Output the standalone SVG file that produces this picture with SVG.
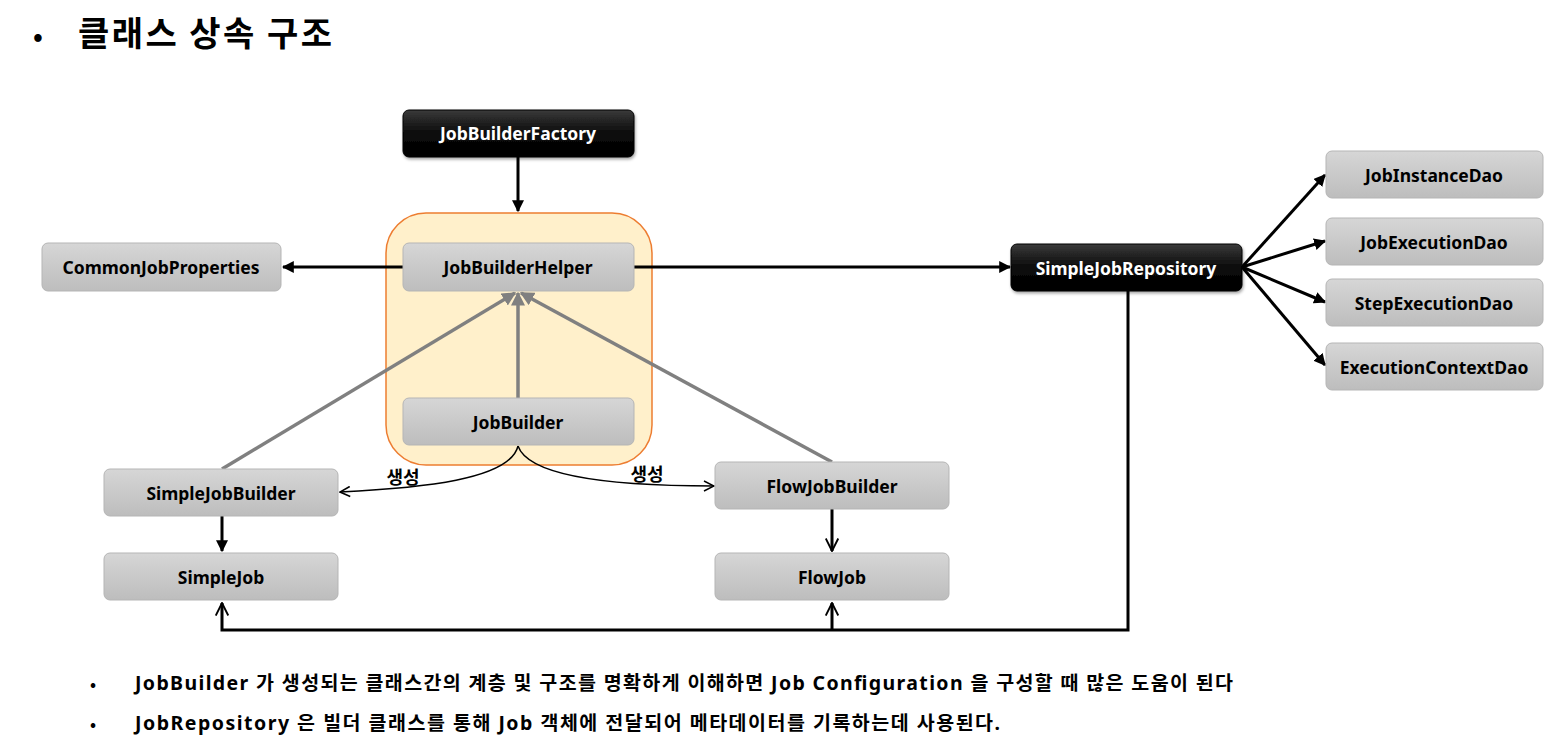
<svg xmlns="http://www.w3.org/2000/svg" width="1551" height="749" viewBox="0 0 1551 749">
<style>
.t{font-family:"Noto Sans","Noto Sans CJK KR",sans-serif;font-weight:bold;font-size:17.5px;text-anchor:middle;dominant-baseline:central}
.tw{fill:#fff}
.tb{fill:#000}
.g{fill:url(#gg);stroke:#b5b5b5;stroke-width:1}
.k{fill:url(#gk);stroke:#000;stroke-width:1;filter:url(#sh)}
.c{fill:none;stroke:#000;stroke-width:3}
.cg{fill:none;stroke:#808080;stroke-width:3.5}
.cc{fill:none;stroke:#000;stroke-width:1.5}
.kr{font-family:"Noto Sans CJK KR",sans-serif;font-weight:bold;fill:#000}
.nt{font-family:"Noto Sans","Noto Sans CJK KR",sans-serif;font-weight:bold;fill:#000;font-size:19.5px}
</style>
<defs>
<linearGradient id="gg" x1="0" y1="0" x2="0" y2="1"><stop offset="0" stop-color="#d6d6d6"/><stop offset="1" stop-color="#bdbdbd"/></linearGradient>
<linearGradient id="gk" x1="0" y1="0" x2="0" y2="1"><stop offset="0" stop-color="#3a3a3a"/><stop offset="0.5" stop-color="#0a0a0a"/><stop offset="1" stop-color="#000"/></linearGradient>
<filter id="sh" x="-10%" y="-20%" width="120%" height="150%"><feDropShadow dx="1" dy="2" stdDeviation="1.5" flood-color="#000" flood-opacity="0.35"/></filter>
<marker id="a" viewBox="0 0 10 10" refX="9" refY="5" markerWidth="4" markerHeight="4" orient="auto" markerUnits="strokeWidth"><path d="M0,0 L10,5 L0,10 z" fill="#000"/></marker>
<marker id="ag" viewBox="0 0 10 10" refX="9" refY="5" markerWidth="4" markerHeight="4" orient="auto" markerUnits="strokeWidth"><path d="M0,0 L10,5 L0,10 z" fill="#808080"/></marker>
<marker id="ao" viewBox="0 0 12 12" refX="11" refY="6" markerWidth="8" markerHeight="8" orient="auto" markerUnits="strokeWidth"><path d="M1,1 L11,6 L1,11" fill="none" stroke="#000" stroke-width="1.5"/></marker>
<marker id="ao2" viewBox="0 0 12 12" refX="11" refY="6" markerWidth="5" markerHeight="5" orient="auto" markerUnits="strokeWidth"><path d="M1,1 L11,6 L1,11" fill="none" stroke="#000" stroke-width="1.5"/></marker>
</defs>
<rect width="1551" height="749" fill="#fff"/>

<g id="title">
<text x="33" y="46" class="kr" font-size="26" font-weight="normal">•</text>
<text x="78" y="46" class="kr" font-size="34" textLength="254" lengthAdjust="spacing">클래스 상속 구조</text>
</g>

<g id="container">
<rect x="386" y="213" width="266" height="252" rx="40" fill="#fff0cb" stroke="#ed7d31" stroke-width="1.5"/>
</g>

<g id="connectors">
<line class="c" x1="518" y1="157" x2="518" y2="211" marker-end="url(#a)"/>
<line class="c" x1="403" y1="267" x2="283" y2="267" marker-end="url(#a)"/>
<line class="c" x1="634" y1="267" x2="1010" y2="267" marker-end="url(#a)"/>
<line class="c" x1="1242" y1="267" x2="1325" y2="175" marker-end="url(#a)"/>
<line class="c" x1="1242" y1="267" x2="1325" y2="241" marker-end="url(#a)"/>
<line class="c" x1="1242" y1="267" x2="1325" y2="302" marker-end="url(#a)"/>
<line class="c" x1="1242" y1="267" x2="1325" y2="365" marker-end="url(#a)"/>
<line class="cg" x1="222" y1="469" x2="515" y2="293" marker-end="url(#ag)"/>
<line class="cg" x1="518" y1="398" x2="518" y2="293" marker-end="url(#ag)"/>
<line class="cg" x1="832" y1="462" x2="521" y2="293" marker-end="url(#ag)"/>
<path class="cc" d="M518,446 C510,480 420,488 340,492" marker-end="url(#ao)"/>
<path class="cc" d="M518,446 C530,480 630,486 714,486" marker-end="url(#ao)"/>
<line class="c" x1="222" y1="516" x2="222" y2="551" marker-end="url(#a)"/>
<line class="c" x1="832" y1="509" x2="832" y2="551" marker-end="url(#ao2)"/>
<polyline class="c" points="1128,291 1128,630 222,630 222,603" marker-end="url(#ao2)"/>
<line class="c" x1="832" y1="630" x2="832" y2="603" marker-end="url(#ao2)"/>
<text x="403" y="484" class="kr" font-size="18" text-anchor="middle">생성</text>
<text x="647" y="481" class="kr" font-size="18" text-anchor="middle">생성</text>
</g>

<g id="JobBuilderFactory"><rect class="k" x="403" y="110" width="231" height="47" rx="6"/><text class="t tw" x="518" y="133">JobBuilderFactory</text></g>
<g id="JobBuilderHelper"><rect class="g" x="403" y="243" width="231" height="48" rx="6"/><text class="t tb" x="518" y="267">JobBuilderHelper</text></g>
<g id="CommonJobProperties"><rect class="g" x="42" y="243" width="239" height="48" rx="6"/><text class="t tb" x="161" y="267">CommonJobProperties</text></g>
<g id="JobBuilder"><rect class="g" x="403" y="398" width="231" height="47" rx="6"/><text class="t tb" x="518" y="422">JobBuilder</text></g>
<g id="SimpleJobBuilder"><rect class="g" x="104" y="469" width="234" height="47" rx="6"/><text class="t tb" x="221" y="493">SimpleJobBuilder</text></g>
<g id="FlowJobBuilder"><rect class="g" x="715" y="462" width="234" height="47" rx="6"/><text class="t tb" x="832" y="486">FlowJobBuilder</text></g>
<g id="SimpleJob"><rect class="g" x="104" y="553" width="234" height="47" rx="6"/><text class="t tb" x="221" y="577">SimpleJob</text></g>
<g id="FlowJob"><rect class="g" x="715" y="553" width="234" height="47" rx="6"/><text class="t tb" x="832" y="577">FlowJob</text></g>
<g id="SimpleJobRepository"><rect class="k" x="1011" y="244" width="231" height="47" rx="6"/><text class="t tw" x="1126" y="268">SimpleJobRepository</text></g>
<g id="JobInstanceDao"><rect class="g" x="1326" y="151" width="217" height="47" rx="6"/><text class="t tb" x="1434" y="175">JobInstanceDao</text></g>
<g id="JobExecutionDao"><rect class="g" x="1326" y="218" width="217" height="47" rx="6"/><text class="t tb" x="1434" y="242">JobExecutionDao</text></g>
<g id="StepExecutionDao"><rect class="g" x="1326" y="279" width="217" height="47" rx="6"/><text class="t tb" x="1434" y="303">StepExecutionDao</text></g>
<g id="ExecutionContextDao"><rect class="g" x="1326" y="343" width="217" height="47" rx="6"/><text class="t tb" x="1434" y="367">ExecutionContextDao</text></g>

<g id="notes">
<text x="90" y="690" class="kr" font-size="16" font-weight="normal">•</text>
<text x="135" y="690" class="nt" textLength="1098" lengthAdjust="spacing">JobBuilder 가 생성되는 클래스간의 계층 및 구조를 명확하게 이해하면 Job Configuration 을 구성할 때 많은 도움이 된다</text>
<text x="90" y="730" class="kr" font-size="16" font-weight="normal">•</text>
<text x="135" y="730" class="nt" textLength="865" lengthAdjust="spacing">JobRepository 은 빌더 클래스를 통해 Job 객체에 전달되어 메타데이터를 기록하는데 사용된다.</text>
</g>
</svg>
